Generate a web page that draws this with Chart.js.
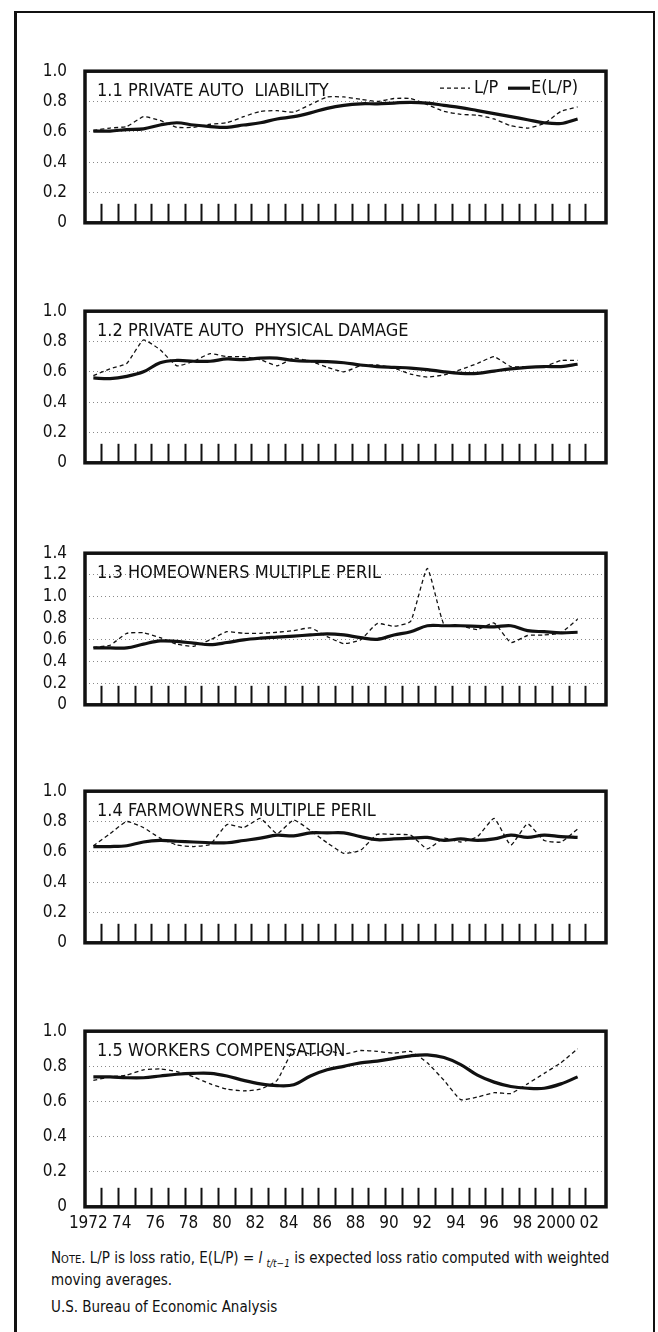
<!DOCTYPE html>
<html>
<head>
<meta charset="utf-8">
<script src="https://cdn.jsdelivr.net/npm/chart.js@4.4.1/dist/chart.umd.min.js"></script>
<style>
  body { margin: 0; background: #fff; width: 658px; height: 1332px; position: relative; overflow: hidden;
         font-family: 'Liberation Sans Narrow', 'DejaVu Sans Condensed', sans-serif; color: #111; }
  #frame { position: absolute; left: 14px; top: 11px; width: 636px; height: 1330px;
           border-left: 3px solid #111; border-top: 2px solid #111; border-right: 2px solid #111; }
  canvas { position: absolute; left: 0; }
  .note { position: absolute; left: 51px; font-size: 15px; line-height: 17px; white-space: nowrap; }
  .note small { font-size: 11px; }
  .note sub { font-size: 10px; font-style: italic; }
</style>
</head>
<body>
<div id="frame"></div>
<canvas id="p1"></canvas>
<canvas id="p2"></canvas>
<canvas id="p3"></canvas>
<canvas id="p4"></canvas>
<canvas id="p5"></canvas>
<div class="note" style="top:1250px">N<small>OTE</small>. L/P is loss ratio, E(L/P) = <i>l</i> <sub>t/t−1</sub> is expected loss ratio computed with weighted<br>moving averages.</div>
<div class="note" style="top:1299px">U.S. Bureau of Economic Analysis</div>

<script>
const YEARS = [1972, 1973, 1974, 1975, 1976, 1977, 1978, 1979, 1980, 1981,
               1982, 1983, 1984, 1985, 1986, 1987, 1988, 1989, 1990, 1991,
               1992, 1993, 1994, 1995, 1996, 1997, 1998, 1999, 2000, 2001];

const TITLES = ['1.1 PRIVATE AUTO  LIABILITY', '1.2 PRIVATE AUTO  PHYSICAL DAMAGE',
                '1.3 HOMEOWNERS MULTIPLE PERIL', '1.4 FARMOWNERS MULTIPLE PERIL',
                '1.5 WORKERS COMPENSATION'];
const SERIES_NAMES = ['L/P', 'E(L/P)'];
const Y_MAX = [1.0, 1.0, 1.4, 1.0, 1.0];

// L/P (dashed) and E(L/P) (solid), one pair per panel
const LP_AUTO_LIAB  = [0.61, 0.625, 0.635, 0.70, 0.675, 0.63, 0.63, 0.65, 0.66, 0.70,
                       0.735, 0.74, 0.73, 0.78, 0.83, 0.83, 0.815, 0.80, 0.82, 0.82,
                       0.78, 0.735, 0.715, 0.71, 0.685, 0.64, 0.625, 0.655, 0.735, 0.765];
const ELP_AUTO_LIAB = [0.605, 0.605, 0.615, 0.62, 0.645, 0.66, 0.645, 0.635, 0.63, 0.645,
                       0.66, 0.685, 0.70, 0.725, 0.755, 0.775, 0.785, 0.785, 0.79, 0.795,
                       0.79, 0.775, 0.76, 0.74, 0.72, 0.70, 0.68, 0.66, 0.655, 0.685];

const LP_AUTO_PHYS  = [0.575, 0.62, 0.655, 0.81, 0.745, 0.64, 0.67, 0.72, 0.70, 0.70,
                       0.68, 0.64, 0.69, 0.67, 0.63, 0.60, 0.64, 0.645, 0.625, 0.585,
                       0.565, 0.58, 0.615, 0.655, 0.70, 0.635, 0.635, 0.635, 0.675, 0.675];
const ELP_AUTO_PHYS = [0.56, 0.555, 0.57, 0.60, 0.66, 0.675, 0.67, 0.67, 0.685, 0.68,
                       0.69, 0.69, 0.675, 0.67, 0.668, 0.66, 0.645, 0.635, 0.63, 0.625,
                       0.615, 0.60, 0.59, 0.59, 0.605, 0.62, 0.63, 0.635, 0.635, 0.65];

const LP_HOME  = [0.53, 0.55, 0.66, 0.665, 0.62, 0.56, 0.54, 0.60, 0.675, 0.66,
                  0.66, 0.67, 0.685, 0.71, 0.63, 0.565, 0.60, 0.75, 0.725, 0.77,
                  1.26, 0.74, 0.73, 0.695, 0.755, 0.575, 0.64, 0.645, 0.665, 0.79];
const ELP_HOME = [0.525, 0.525, 0.525, 0.56, 0.59, 0.585, 0.57, 0.555, 0.575, 0.60,
                  0.615, 0.625, 0.635, 0.645, 0.655, 0.645, 0.62, 0.605, 0.645, 0.675,
                  0.73, 0.73, 0.73, 0.725, 0.72, 0.73, 0.685, 0.675, 0.665, 0.67];

const LP_FARM  = [0.64, 0.72, 0.80, 0.76, 0.69, 0.645, 0.635, 0.65, 0.78, 0.76,
                  0.82, 0.72, 0.81, 0.74, 0.66, 0.59, 0.61, 0.715, 0.715, 0.71,
                  0.62, 0.69, 0.665, 0.70, 0.82, 0.645, 0.785, 0.675, 0.665, 0.75];
const ELP_FARM = [0.635, 0.635, 0.64, 0.665, 0.675, 0.67, 0.665, 0.66, 0.66, 0.675,
                  0.69, 0.71, 0.705, 0.725, 0.725, 0.725, 0.70, 0.68, 0.685, 0.69,
                  0.695, 0.675, 0.685, 0.675, 0.685, 0.71, 0.695, 0.71, 0.70, 0.695];

const LP_WORK  = [0.72, 0.74, 0.75, 0.78, 0.785, 0.77, 0.74, 0.70, 0.67, 0.66,
                  0.67, 0.72, 0.895, 0.87, 0.89, 0.87, 0.89, 0.885, 0.875, 0.885,
                  0.82, 0.72, 0.61, 0.625, 0.65, 0.645, 0.70, 0.76, 0.82, 0.90];
const ELP_WORK = [0.74, 0.74, 0.735, 0.735, 0.745, 0.755, 0.76, 0.76, 0.745, 0.72,
                  0.70, 0.69, 0.695, 0.745, 0.78, 0.80, 0.82, 0.83, 0.845, 0.86,
                  0.865, 0.85, 0.81, 0.75, 0.71, 0.685, 0.675, 0.675, 0.70, 0.74];

const PANELS = [
  [LP_AUTO_LIAB, ELP_AUTO_LIAB],
  [LP_AUTO_PHYS, ELP_AUTO_PHYS],
  [LP_HOME, ELP_HOME],
  [LP_FARM, ELP_FARM],
  [LP_WORK, ELP_WORK]
];

// layout
const PANEL_TOPS = [55, 295, 537, 775, 1015];
const PLOT_H = 192;
const PAD_TOP = 12;
const FONT = "'Liberation Sans Narrow', 'DejaVu Sans Condensed', sans-serif";
const INK = '#111';

Chart.defaults.font.family = FONT;
Chart.defaults.font.size = 17;
Chart.defaults.color = INK;

// tick marks sit on year boundaries, labels sit on the years
const tickValues = [];
for (let y = 1972; y <= 2002; y++) {
  tickValues.push(y);
  if (y < 2002) tickValues.push(y + 0.5);
}

const yearLabel = v => {
  if (!Number.isInteger(v) || v % 2) return '';
  if (v === 1972 || v === 2000) return String(v);
  return String(v).slice(2);
};

const panelText = {
  id: 'panelText',
  afterDraw(chart, args, opts) {
    const {ctx, chartArea: a} = chart;
    ctx.save();
    ctx.strokeStyle = INK;
    ctx.lineWidth = 3.5;
    ctx.strokeRect(a.left, a.top, a.right - a.left, a.bottom - a.top);

    ctx.fillStyle = INK;
    ctx.font = `18px ${FONT}`;
    ctx.textBaseline = 'middle';
    ctx.fillText(opts.title, a.left + 12, a.top + 20);

    if (opts.legend) {
      const ds = chart.data.datasets;
      const ly = a.top + 17;
      ctx.lineWidth = 1.3;
      ctx.setLineDash([4, 3]);
      ctx.beginPath();
      ctx.moveTo(a.right - 166, ly);
      ctx.lineTo(a.right - 136, ly);
      ctx.stroke();
      ctx.fillText(ds[0].label, a.right - 132, ly);
      ctx.setLineDash([]);
      ctx.lineWidth = 3.2;
      ctx.beginPath();
      ctx.moveTo(a.right - 98, ly);
      ctx.lineTo(a.right - 76, ly);
      ctx.stroke();
      ctx.fillText(ds[1].label, a.right - 75, ly);
    }
    ctx.restore();
  }
};

const makePanel = (idx) => {
  const last = idx === PANELS.length - 1;
  const canvas = document.getElementById('p' + (idx + 1));
  const h = PAD_TOP + PLOT_H + (last ? 28 : 4);
  canvas.width = 658;
  canvas.height = h;
  canvas.style.width = '658px';
  canvas.style.height = h + 'px';
  canvas.style.top = (PANEL_TOPS[idx] - PAD_TOP) + 'px';

  const [lp, elp] = PANELS[idx];
  const toPoints = arr => arr.map((v, i) => ({x: YEARS[i], y: v}));

  new Chart(canvas, {
    type: 'line',
    data: {
      datasets: [
        {
          label: SERIES_NAMES[0],
          data: toPoints(lp),
          borderColor: INK,
          borderWidth: 1.3,
          borderDash: [4, 3],
          tension: 0.15,
          pointRadius: 0,
          fill: false
        },
        {
          label: SERIES_NAMES[1],
          data: toPoints(elp),
          borderColor: INK,
          borderWidth: 3.2,
          tension: 0.35,
          pointRadius: 0,
          fill: false
        }
      ]
    },
    options: {
      responsive: false,
      animation: false,
      layout: { padding: { left: 41, right: 52, top: PAD_TOP, bottom: last ? 0 : 4 } },
      plugins: {
        legend: { display: false },
        tooltip: { enabled: false },
        panelText: { title: TITLES[idx], legend: idx === 0 }
      },
      scales: {
        x: {
          type: 'linear',
          min: 1971.5,
          max: 2002.7,
          afterBuildTicks: s => { s.ticks = tickValues.map(v => ({value: v})); },
          afterFit: s => { s.height = last ? 28 : 0; },
          border: { display: false },
          grid: {
            drawOnChartArea: false,
            tickLength: -19,
            tickWidth: 2,
            tickColor: c => (Number.isInteger(c.tick.value) ? 'rgba(0,0,0,0)' : INK)
          },
          ticks: {
            display: last,
            autoSkip: false,
            maxRotation: 0,
            padding: 26,
            labelOffset: -5,
            font: { size: 17 },
            callback: yearLabel
          }
        },
        y: {
          min: 0,
          max: Y_MAX[idx],
          afterFit: s => { s.width = 44; },
          border: { display: false, dash: [1, 3] },
          grid: {
            drawTicks: false,
            lineWidth: 1,
            color: c => (c.tick.value === 0 ? 'rgba(0,0,0,0)' : '#8a8a8a')
          },
          ticks: {
            stepSize: 0.2,
            padding: 18,
            font: { size: 17 },
            callback: v => (v === 0 ? '0' : v.toFixed(1))
          }
        }
      }
    },
    plugins: [panelText]
  });
};

PANELS.forEach((_, i) => makePanel(i));
</script>
</body>
</html>
